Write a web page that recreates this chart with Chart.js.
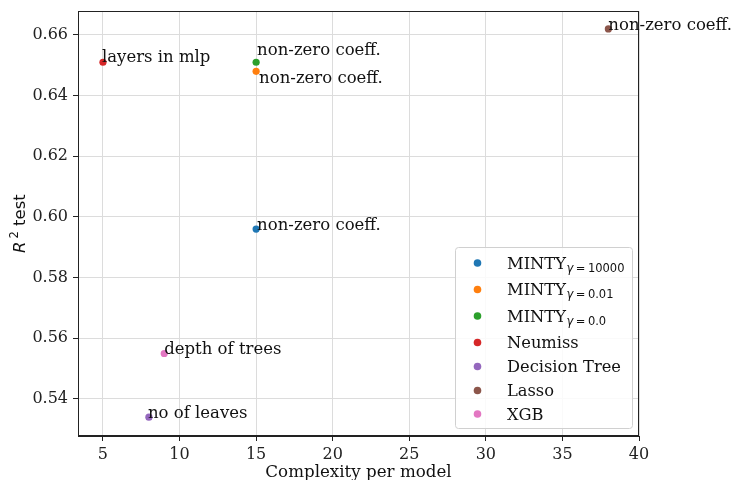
<!DOCTYPE html>
<html>
<head>
<meta charset="utf-8">
<script src="https://cdn.jsdelivr.net/npm/chart.js@4/dist/chart.umd.min.js"></script>
<style>
html,body{margin:0;padding:0;background:#fff;}
#wrap{width:740px;height:480px;position:relative;}
</style>
</head>
<body>
<div id="wrap"><canvas id="c" width="740" height="480"></canvas></div>
<script>
// ---- data ----
const models = ['MINTY', 'MINTY', 'MINTY', 'Neumiss', 'Decision Tree', 'Lasso', 'XGB'];
const modelSubscripts = ['10000', '0.01', '0.0', '', '', '', ''];
const complexity = [15, 15, 15, 5, 8, 38, 9];
const r2Test = [0.596, 0.648, 0.651, 0.651, 0.534, 0.662, 0.555];
const annotationTexts = ['non-zero coeff.', 'non-zero coeff.', 'non-zero coeff.', 'layers in mlp', 'no of leaves', 'non-zero coeff.', 'depth of trees'];
const xTickValues = [5, 10, 15, 20, 25, 30, 35, 40];
const yTickValues = [0.54, 0.56, 0.58, 0.60, 0.62, 0.64, 0.66];
const xAxisTitle = 'Complexity per model';
const yAxisTitle = ['R', '2', ' test'];

// ---- styles ----
const colors = ['#1f77b4', '#ff7f0e', '#2ca02c', '#d62728', '#9467bd', '#8c564b', '#e377c2'];
// pixel offsets for annotation text (dx, dy)
const annOffsets = [[1, 1], [3, 12], [1, -7], [-1, 0], [-1, 1], [0, 1], [0, 1]];
const SERIF = '"DejaVu Serif", serif';
const SANS = '"DejaVu Sans", sans-serif';

Chart.defaults.font.family = SERIF;
Chart.defaults.color = '#222';

const datasets = models.map((m, i) => ({
  label: m + (modelSubscripts[i] ? ' γ = ' + modelSubscripts[i] : ''),
  data: [{x: complexity[i], y: r2Test[i]}],
  backgroundColor: colors[i],
  borderWidth: 0,
  pointRadius: 3.6,
  pointHoverRadius: 3.6
}));

const extras = {
  id: 'extras',
  afterDraw(chart) {
    const ctx = chart.ctx;
    const a = chart.chartArea;
    const xs = chart.scales.x, ys = chart.scales.y;
    ctx.save();
    // full frame
    ctx.strokeStyle = '#222';
    ctx.lineWidth = 1;
    ctx.strokeRect(Math.round(a.left) + 0.5, Math.round(a.top) + 0.5, Math.round(a.right - a.left) - 1, Math.round(a.bottom - a.top) - 1);

    // annotations
    ctx.font = '16.5px ' + SERIF;
    ctx.fillStyle = '#111';
    ctx.textBaseline = 'alphabetic';
    ctx.textAlign = 'left';
    annotationTexts.forEach((t, i) => {
      const px = xs.getPixelForValue(complexity[i]);
      const py = ys.getPixelForValue(r2Test[i]);
      ctx.fillText(t, px + annOffsets[i][0], py + annOffsets[i][1]);
    });

    // legend
    const L = {x: 455, y: 247, w: 177, h: 181};
    ctx.beginPath();
    if (ctx.roundRect) ctx.roundRect(L.x + 0.5, L.y + 0.5, L.w, L.h, 3); else ctx.rect(L.x + 0.5, L.y + 0.5, L.w, L.h);
    ctx.fillStyle = 'rgba(255,255,255,0.85)';
    ctx.fill();
    ctx.strokeStyle = '#d0d0d0';
    ctx.lineWidth = 1;
    ctx.stroke();
    const rowY = [263, 289.5, 316, 342.5, 366.5, 390.5, 414];
    models.forEach((m, i) => {
      const y = rowY[i];
      ctx.beginPath();
      ctx.arc(477.5, y, 3.8, 0, Math.PI * 2);
      ctx.fillStyle = colors[i];
      ctx.fill();
      ctx.fillStyle = '#111';
      ctx.textBaseline = 'alphabetic';
      ctx.font = '16.3px ' + SERIF;
      const sub = modelSubscripts[i];
      const base = y + 5.5;
      ctx.fillText(m, 507, base);
      if (sub) {
        let x = 507 + ctx.measureText(m).width + 0.5;
        ctx.font = 'italic 11.5px ' + SANS;
        ctx.fillText('γ', x, base + 3);
        x += ctx.measureText('γ').width + 2.5;
        ctx.font = '11.5px ' + SANS;
        ctx.fillText('=', x, base + 3);
        x += ctx.measureText('=').width + 2.5;
        ctx.fillText(sub, x, base + 3);
      }
    });

    // y axis title with superscript
    ctx.save();
    ctx.translate(25, 253);
    ctx.rotate(-Math.PI / 2);
    ctx.fillStyle = '#111';
    ctx.textBaseline = 'alphabetic';
    ctx.font = 'italic 16.5px ' + SANS;
    ctx.fillText(yAxisTitle[0], 0, 0);
    let w = ctx.measureText(yAxisTitle[0]).width + 3;
    ctx.font = '11.5px ' + SANS;
    ctx.fillText(yAxisTitle[1], w, -7);
    w += ctx.measureText(yAxisTitle[1]).width;
    ctx.font = '16.5px ' + SANS;
    ctx.fillText(yAxisTitle[2], w, 0);
    ctx.restore();

    ctx.restore();
  }
};

new Chart(document.getElementById('c'), {
  type: 'scatter',
  data: {datasets},
  options: {
    responsive: false,
    animation: false,
    devicePixelRatio: 1,
    layout: {padding: {left: 0, right: 101, top: 11, bottom: 0}},
    plugins: {legend: {display: false}, tooltip: {enabled: false}},
    scales: {
      x: {
        type: 'linear',
        min: 3.37, max: 40,
        afterBuildTicks: s => { s.ticks = xTickValues.map(v => ({value: v})); },
        afterFit: s => { s.height = 44; s.paddingLeft = 0; s.paddingRight = 0; },
        ticks: {font: {size: 16}, color: '#222', padding: 4, maxRotation: 0, callback: v => String(v)},
        grid: {color: '#dcdcdc', tickColor: '#222', tickLength: 5, lineWidth: 1},
        border: {display: true, color: '#222'},
        title: {display: true, text: xAxisTitle, font: {size: 16.7, lineHeight: 0.9}, color: '#111', padding: {top: 0, bottom: 0}}
      },
      y: {
        type: 'linear',
        min: 0.5278, max: 0.6679,
        afterBuildTicks: s => { s.ticks = yTickValues.map(v => ({value: v})); },
        afterFit: s => { s.width = 78; s.paddingTop = 0; s.paddingBottom = 0; },
        ticks: {font: {size: 16}, color: '#222', padding: 5, callback: v => Number(v).toFixed(2)},
        grid: {color: '#dcdcdc', tickColor: '#222', tickLength: 5, lineWidth: 1},
        border: {display: true, color: '#222'}
      }
    }
  },
  plugins: [extras]
});
</script>
</body>
</html>
